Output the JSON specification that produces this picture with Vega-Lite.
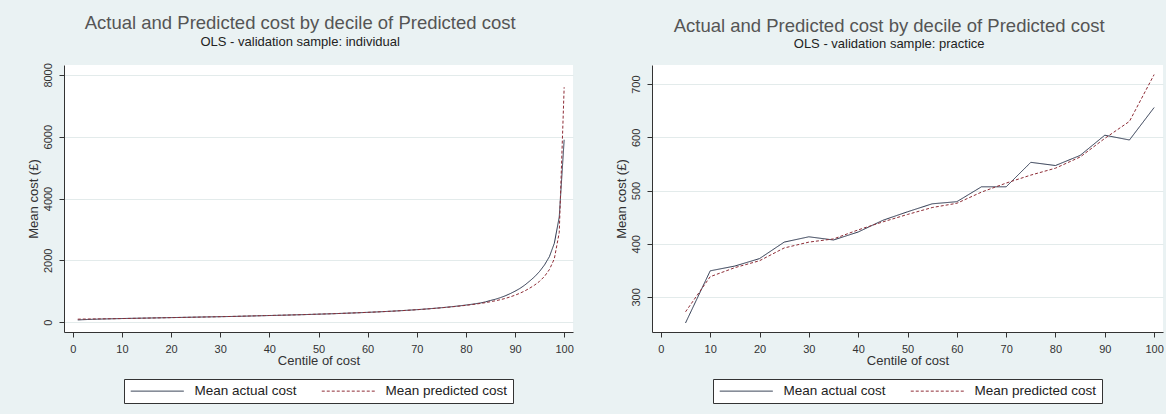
{
  "$schema": "https://vega.github.io/schema/vega-lite/v6.json",
  "background": "#eaf2f3",
  "padding": {"left": 27, "top": 14, "right": 2, "bottom": 10},
  "spacing": 40,
  "config": {
    "font": "Liberation Sans",
    "view": {"fill": "white", "stroke": null},
    "title": {
      "fontSize": 18.5,
      "fontWeight": "normal",
      "color": "#555555",
      "subtitleFontSize": 13,
      "subtitleColor": "#222222",
      "subtitlePadding": 3,
      "anchor": "middle",
      "frame": "bounds",
      "offset": 14
    },
    "axis": {
      "domainColor": "#333333",
      "tickColor": "#333333",
      "tickSize": 5,
      "labelColor": "#333333",
      "labelFontSize": 11,
      "titleFontSize": 13,
      "titleFontWeight": "normal",
      "titleColor": "#333333",
      "gridColor": "#e3ebeb"
    },
    "axisX": {"grid": false, "labelPadding": 6, "titlePadding": 0},
    "axisY": {"labelAngle": -90, "labelAlign": "center", "labelBaseline": "bottom", "labelPadding": 6, "titlePadding": 2},
    "legend": {
      "orient": "bottom",
      "direction": "horizontal",
      "title": null,
      "strokeColor": "#333333",
      "fillColor": "white",
      "padding": 5,
      "offset": 12,
      "symbolType": "M-1,0H9.6",
      "symbolSize": 100,
      "symbolStrokeWidth": 1,
      "labelOffset": 52,
      "columnPadding": 22,
      "labelFontSize": 13.5,
      "labelColor": "#222222",
      "layout": {"bottom": {"anchor": "middle"}}
    }
  },
  "datasets": {
    "individual": [
      {"centile": 1, "series": "Mean actual cost", "cost": 70}, {"centile": 1, "series": "Mean predicted cost", "cost": 95},
      {"centile": 2, "series": "Mean actual cost", "cost": 78}, {"centile": 2, "series": "Mean predicted cost", "cost": 98},
      {"centile": 3, "series": "Mean actual cost", "cost": 84}, {"centile": 3, "series": "Mean predicted cost", "cost": 100},
      {"centile": 4, "series": "Mean actual cost", "cost": 90}, {"centile": 4, "series": "Mean predicted cost", "cost": 102},
      {"centile": 5, "series": "Mean actual cost", "cost": 95}, {"centile": 5, "series": "Mean predicted cost", "cost": 104},
      {"centile": 6, "series": "Mean actual cost", "cost": 100}, {"centile": 6, "series": "Mean predicted cost", "cost": 106},
      {"centile": 7, "series": "Mean actual cost", "cost": 104}, {"centile": 7, "series": "Mean predicted cost", "cost": 108},
      {"centile": 8, "series": "Mean actual cost", "cost": 108}, {"centile": 8, "series": "Mean predicted cost", "cost": 110},
      {"centile": 9, "series": "Mean actual cost", "cost": 112}, {"centile": 9, "series": "Mean predicted cost", "cost": 112},
      {"centile": 10, "series": "Mean actual cost", "cost": 116}, {"centile": 10, "series": "Mean predicted cost", "cost": 115},
      {"centile": 11, "series": "Mean actual cost", "cost": 119}, {"centile": 11, "series": "Mean predicted cost", "cost": 118},
      {"centile": 12, "series": "Mean actual cost", "cost": 122}, {"centile": 12, "series": "Mean predicted cost", "cost": 121},
      {"centile": 13, "series": "Mean actual cost", "cost": 125}, {"centile": 13, "series": "Mean predicted cost", "cost": 124},
      {"centile": 14, "series": "Mean actual cost", "cost": 128}, {"centile": 14, "series": "Mean predicted cost", "cost": 127},
      {"centile": 15, "series": "Mean actual cost", "cost": 131}, {"centile": 15, "series": "Mean predicted cost", "cost": 130},
      {"centile": 16, "series": "Mean actual cost", "cost": 134}, {"centile": 16, "series": "Mean predicted cost", "cost": 133},
      {"centile": 17, "series": "Mean actual cost", "cost": 137}, {"centile": 17, "series": "Mean predicted cost", "cost": 136},
      {"centile": 18, "series": "Mean actual cost", "cost": 140}, {"centile": 18, "series": "Mean predicted cost", "cost": 139},
      {"centile": 19, "series": "Mean actual cost", "cost": 143}, {"centile": 19, "series": "Mean predicted cost", "cost": 142},
      {"centile": 20, "series": "Mean actual cost", "cost": 146}, {"centile": 20, "series": "Mean predicted cost", "cost": 145},
      {"centile": 21, "series": "Mean actual cost", "cost": 149}, {"centile": 21, "series": "Mean predicted cost", "cost": 148},
      {"centile": 22, "series": "Mean actual cost", "cost": 152}, {"centile": 22, "series": "Mean predicted cost", "cost": 151},
      {"centile": 23, "series": "Mean actual cost", "cost": 155}, {"centile": 23, "series": "Mean predicted cost", "cost": 154},
      {"centile": 24, "series": "Mean actual cost", "cost": 158}, {"centile": 24, "series": "Mean predicted cost", "cost": 157},
      {"centile": 25, "series": "Mean actual cost", "cost": 161}, {"centile": 25, "series": "Mean predicted cost", "cost": 160},
      {"centile": 26, "series": "Mean actual cost", "cost": 164}, {"centile": 26, "series": "Mean predicted cost", "cost": 163},
      {"centile": 27, "series": "Mean actual cost", "cost": 167}, {"centile": 27, "series": "Mean predicted cost", "cost": 166},
      {"centile": 28, "series": "Mean actual cost", "cost": 170}, {"centile": 28, "series": "Mean predicted cost", "cost": 169},
      {"centile": 29, "series": "Mean actual cost", "cost": 173}, {"centile": 29, "series": "Mean predicted cost", "cost": 172},
      {"centile": 30, "series": "Mean actual cost", "cost": 176}, {"centile": 30, "series": "Mean predicted cost", "cost": 175},
      {"centile": 31, "series": "Mean actual cost", "cost": 179}, {"centile": 31, "series": "Mean predicted cost", "cost": 179},
      {"centile": 32, "series": "Mean actual cost", "cost": 182}, {"centile": 32, "series": "Mean predicted cost", "cost": 182},
      {"centile": 33, "series": "Mean actual cost", "cost": 185}, {"centile": 33, "series": "Mean predicted cost", "cost": 186},
      {"centile": 34, "series": "Mean actual cost", "cost": 189}, {"centile": 34, "series": "Mean predicted cost", "cost": 190},
      {"centile": 35, "series": "Mean actual cost", "cost": 193}, {"centile": 35, "series": "Mean predicted cost", "cost": 194},
      {"centile": 36, "series": "Mean actual cost", "cost": 197}, {"centile": 36, "series": "Mean predicted cost", "cost": 198},
      {"centile": 37, "series": "Mean actual cost", "cost": 201}, {"centile": 37, "series": "Mean predicted cost", "cost": 202},
      {"centile": 38, "series": "Mean actual cost", "cost": 205}, {"centile": 38, "series": "Mean predicted cost", "cost": 206},
      {"centile": 39, "series": "Mean actual cost", "cost": 209}, {"centile": 39, "series": "Mean predicted cost", "cost": 210},
      {"centile": 40, "series": "Mean actual cost", "cost": 213}, {"centile": 40, "series": "Mean predicted cost", "cost": 214},
      {"centile": 41, "series": "Mean actual cost", "cost": 217}, {"centile": 41, "series": "Mean predicted cost", "cost": 218},
      {"centile": 42, "series": "Mean actual cost", "cost": 221}, {"centile": 42, "series": "Mean predicted cost", "cost": 222},
      {"centile": 43, "series": "Mean actual cost", "cost": 225}, {"centile": 43, "series": "Mean predicted cost", "cost": 226},
      {"centile": 44, "series": "Mean actual cost", "cost": 229}, {"centile": 44, "series": "Mean predicted cost", "cost": 230},
      {"centile": 45, "series": "Mean actual cost", "cost": 234}, {"centile": 45, "series": "Mean predicted cost", "cost": 234},
      {"centile": 46, "series": "Mean actual cost", "cost": 238}, {"centile": 46, "series": "Mean predicted cost", "cost": 238},
      {"centile": 47, "series": "Mean actual cost", "cost": 242}, {"centile": 47, "series": "Mean predicted cost", "cost": 243},
      {"centile": 48, "series": "Mean actual cost", "cost": 247}, {"centile": 48, "series": "Mean predicted cost", "cost": 248},
      {"centile": 49, "series": "Mean actual cost", "cost": 252}, {"centile": 49, "series": "Mean predicted cost", "cost": 253},
      {"centile": 50, "series": "Mean actual cost", "cost": 257}, {"centile": 50, "series": "Mean predicted cost", "cost": 258},
      {"centile": 51, "series": "Mean actual cost", "cost": 262}, {"centile": 51, "series": "Mean predicted cost", "cost": 263},
      {"centile": 52, "series": "Mean actual cost", "cost": 267}, {"centile": 52, "series": "Mean predicted cost", "cost": 268},
      {"centile": 53, "series": "Mean actual cost", "cost": 272}, {"centile": 53, "series": "Mean predicted cost", "cost": 273},
      {"centile": 54, "series": "Mean actual cost", "cost": 278}, {"centile": 54, "series": "Mean predicted cost", "cost": 278},
      {"centile": 55, "series": "Mean actual cost", "cost": 284}, {"centile": 55, "series": "Mean predicted cost", "cost": 284},
      {"centile": 56, "series": "Mean actual cost", "cost": 290}, {"centile": 56, "series": "Mean predicted cost", "cost": 290},
      {"centile": 57, "series": "Mean actual cost", "cost": 296}, {"centile": 57, "series": "Mean predicted cost", "cost": 296},
      {"centile": 58, "series": "Mean actual cost", "cost": 302}, {"centile": 58, "series": "Mean predicted cost", "cost": 302},
      {"centile": 59, "series": "Mean actual cost", "cost": 309}, {"centile": 59, "series": "Mean predicted cost", "cost": 309},
      {"centile": 60, "series": "Mean actual cost", "cost": 316}, {"centile": 60, "series": "Mean predicted cost", "cost": 316},
      {"centile": 61, "series": "Mean actual cost", "cost": 323}, {"centile": 61, "series": "Mean predicted cost", "cost": 323},
      {"centile": 62, "series": "Mean actual cost", "cost": 330}, {"centile": 62, "series": "Mean predicted cost", "cost": 330},
      {"centile": 63, "series": "Mean actual cost", "cost": 338}, {"centile": 63, "series": "Mean predicted cost", "cost": 338},
      {"centile": 64, "series": "Mean actual cost", "cost": 346}, {"centile": 64, "series": "Mean predicted cost", "cost": 346},
      {"centile": 65, "series": "Mean actual cost", "cost": 354}, {"centile": 65, "series": "Mean predicted cost", "cost": 354},
      {"centile": 66, "series": "Mean actual cost", "cost": 363}, {"centile": 66, "series": "Mean predicted cost", "cost": 363},
      {"centile": 67, "series": "Mean actual cost", "cost": 372}, {"centile": 67, "series": "Mean predicted cost", "cost": 372},
      {"centile": 68, "series": "Mean actual cost", "cost": 382}, {"centile": 68, "series": "Mean predicted cost", "cost": 381},
      {"centile": 69, "series": "Mean actual cost", "cost": 392}, {"centile": 69, "series": "Mean predicted cost", "cost": 391},
      {"centile": 70, "series": "Mean actual cost", "cost": 403}, {"centile": 70, "series": "Mean predicted cost", "cost": 401},
      {"centile": 71, "series": "Mean actual cost", "cost": 414}, {"centile": 71, "series": "Mean predicted cost", "cost": 412},
      {"centile": 72, "series": "Mean actual cost", "cost": 426}, {"centile": 72, "series": "Mean predicted cost", "cost": 424},
      {"centile": 73, "series": "Mean actual cost", "cost": 439}, {"centile": 73, "series": "Mean predicted cost", "cost": 436},
      {"centile": 74, "series": "Mean actual cost", "cost": 452}, {"centile": 74, "series": "Mean predicted cost", "cost": 449},
      {"centile": 75, "series": "Mean actual cost", "cost": 466}, {"centile": 75, "series": "Mean predicted cost", "cost": 463},
      {"centile": 76, "series": "Mean actual cost", "cost": 481}, {"centile": 76, "series": "Mean predicted cost", "cost": 477},
      {"centile": 77, "series": "Mean actual cost", "cost": 497}, {"centile": 77, "series": "Mean predicted cost", "cost": 492},
      {"centile": 78, "series": "Mean actual cost", "cost": 514}, {"centile": 78, "series": "Mean predicted cost", "cost": 508},
      {"centile": 79, "series": "Mean actual cost", "cost": 532}, {"centile": 79, "series": "Mean predicted cost", "cost": 525},
      {"centile": 80, "series": "Mean actual cost", "cost": 552}, {"centile": 80, "series": "Mean predicted cost", "cost": 543},
      {"centile": 81, "series": "Mean actual cost", "cost": 573}, {"centile": 81, "series": "Mean predicted cost", "cost": 562},
      {"centile": 82, "series": "Mean actual cost", "cost": 596}, {"centile": 82, "series": "Mean predicted cost", "cost": 583},
      {"centile": 83, "series": "Mean actual cost", "cost": 621}, {"centile": 83, "series": "Mean predicted cost", "cost": 605},
      {"centile": 84, "series": "Mean actual cost", "cost": 655}, {"centile": 84, "series": "Mean predicted cost", "cost": 630},
      {"centile": 85, "series": "Mean actual cost", "cost": 700}, {"centile": 85, "series": "Mean predicted cost", "cost": 660},
      {"centile": 86, "series": "Mean actual cost", "cost": 740}, {"centile": 86, "series": "Mean predicted cost", "cost": 690},
      {"centile": 87, "series": "Mean actual cost", "cost": 790}, {"centile": 87, "series": "Mean predicted cost", "cost": 725},
      {"centile": 88, "series": "Mean actual cost", "cost": 850}, {"centile": 88, "series": "Mean predicted cost", "cost": 765},
      {"centile": 89, "series": "Mean actual cost", "cost": 920}, {"centile": 89, "series": "Mean predicted cost", "cost": 815},
      {"centile": 90, "series": "Mean actual cost", "cost": 1000}, {"centile": 90, "series": "Mean predicted cost", "cost": 870},
      {"centile": 91, "series": "Mean actual cost", "cost": 1090}, {"centile": 91, "series": "Mean predicted cost", "cost": 935},
      {"centile": 92, "series": "Mean actual cost", "cost": 1200}, {"centile": 92, "series": "Mean predicted cost", "cost": 1010},
      {"centile": 93, "series": "Mean actual cost", "cost": 1330}, {"centile": 93, "series": "Mean predicted cost", "cost": 1100},
      {"centile": 94, "series": "Mean actual cost", "cost": 1470}, {"centile": 94, "series": "Mean predicted cost", "cost": 1200},
      {"centile": 95, "series": "Mean actual cost", "cost": 1640}, {"centile": 95, "series": "Mean predicted cost", "cost": 1320},
      {"centile": 96, "series": "Mean actual cost", "cost": 1850}, {"centile": 96, "series": "Mean predicted cost", "cost": 1480},
      {"centile": 97, "series": "Mean actual cost", "cost": 2120}, {"centile": 97, "series": "Mean predicted cost", "cost": 1700},
      {"centile": 98, "series": "Mean actual cost", "cost": 2550}, {"centile": 98, "series": "Mean predicted cost", "cost": 2050},
      {"centile": 99, "series": "Mean actual cost", "cost": 3400}, {"centile": 99, "series": "Mean predicted cost", "cost": 2900},
      {"centile": 100, "series": "Mean actual cost", "cost": 5900}, {"centile": 100, "series": "Mean predicted cost", "cost": 7600}
    ],
    "practice": [
      {"centile": 5, "series": "Mean actual cost", "cost": 251}, {"centile": 5, "series": "Mean predicted cost", "cost": 272},
      {"centile": 10, "series": "Mean actual cost", "cost": 349}, {"centile": 10, "series": "Mean predicted cost", "cost": 338},
      {"centile": 15, "series": "Mean actual cost", "cost": 358}, {"centile": 15, "series": "Mean predicted cost", "cost": 355},
      {"centile": 20, "series": "Mean actual cost", "cost": 372}, {"centile": 20, "series": "Mean predicted cost", "cost": 368},
      {"centile": 25, "series": "Mean actual cost", "cost": 403}, {"centile": 25, "series": "Mean predicted cost", "cost": 392},
      {"centile": 30, "series": "Mean actual cost", "cost": 413}, {"centile": 30, "series": "Mean predicted cost", "cost": 403},
      {"centile": 35, "series": "Mean actual cost", "cost": 407}, {"centile": 35, "series": "Mean predicted cost", "cost": 409},
      {"centile": 40, "series": "Mean actual cost", "cost": 422}, {"centile": 40, "series": "Mean predicted cost", "cost": 426},
      {"centile": 45, "series": "Mean actual cost", "cost": 444}, {"centile": 45, "series": "Mean predicted cost", "cost": 441},
      {"centile": 50, "series": "Mean actual cost", "cost": 460}, {"centile": 50, "series": "Mean predicted cost", "cost": 455},
      {"centile": 55, "series": "Mean actual cost", "cost": 475}, {"centile": 55, "series": "Mean predicted cost", "cost": 468},
      {"centile": 60, "series": "Mean actual cost", "cost": 479}, {"centile": 60, "series": "Mean predicted cost", "cost": 476},
      {"centile": 65, "series": "Mean actual cost", "cost": 507}, {"centile": 65, "series": "Mean predicted cost", "cost": 497},
      {"centile": 70, "series": "Mean actual cost", "cost": 507}, {"centile": 70, "series": "Mean predicted cost", "cost": 514},
      {"centile": 75, "series": "Mean actual cost", "cost": 553}, {"centile": 75, "series": "Mean predicted cost", "cost": 529},
      {"centile": 80, "series": "Mean actual cost", "cost": 547}, {"centile": 80, "series": "Mean predicted cost", "cost": 542},
      {"centile": 85, "series": "Mean actual cost", "cost": 566}, {"centile": 85, "series": "Mean predicted cost", "cost": 563},
      {"centile": 90, "series": "Mean actual cost", "cost": 604}, {"centile": 90, "series": "Mean predicted cost", "cost": 598},
      {"centile": 95, "series": "Mean actual cost", "cost": 595}, {"centile": 95, "series": "Mean predicted cost", "cost": 630},
      {"centile": 100, "series": "Mean actual cost", "cost": 656}, {"centile": 100, "series": "Mean predicted cost", "cost": 718}
    ]
  },
  "hconcat": [
    {
      "title": {"text": "Actual and Predicted cost by decile of Predicted cost", "subtitle": "OLS - validation sample: individual"},
      "width": 509,
      "height": 267,
      "data": {"name": "individual"},
      "mark": {"type": "line", "strokeWidth": 1},
      "encoding": {
        "x": {"field": "centile", "type": "quantitative", "scale": {"domain": [-1.8, 101.8], "nice": false, "zero": false}, "axis": {"values": [0, 10, 20, 30, 40, 50, 60, 70, 80, 90, 100], "title": "Centile of cost"}},
        "y": {"field": "cost", "type": "quantitative", "scale": {"domain": [-320, 8320], "nice": false, "zero": false}, "axis": {"values": [0, 2000, 4000, 6000, 8000], "format": "d", "title": "Mean cost (£)"}},
        "color": {"field": "series", "type": "nominal", "scale": {"domain": ["Mean actual cost", "Mean predicted cost"], "range": ["#27324a", "#8e2c36"]}},
        "strokeDash": {"field": "series", "type": "nominal", "scale": {"domain": ["Mean actual cost", "Mean predicted cost"], "range": [[1, 0], [3, 2]]}}
      }
    },
    {
      "title": {"text": "Actual and Predicted cost by decile of Predicted cost", "subtitle": "OLS - validation sample: practice"},
      "width": 511,
      "height": 267,
      "data": {"name": "practice"},
      "mark": {"type": "line", "strokeWidth": 1},
      "encoding": {
        "x": {"field": "centile", "type": "quantitative", "scale": {"domain": [-1.8, 101.8], "nice": false, "zero": false}, "axis": {"values": [0, 10, 20, 30, 40, 50, 60, 70, 80, 90, 100], "title": "Centile of cost"}},
        "y": {"field": "cost", "type": "quantitative", "scale": {"domain": [234, 736], "nice": false, "zero": false}, "axis": {"values": [300, 400, 500, 600, 700], "title": "Mean cost (£)"}},
        "color": {"field": "series", "type": "nominal", "scale": {"domain": ["Mean actual cost", "Mean predicted cost"], "range": ["#27324a", "#8e2c36"]}},
        "strokeDash": {"field": "series", "type": "nominal", "scale": {"domain": ["Mean actual cost", "Mean predicted cost"], "range": [[1, 0], [3, 2]]}}
      }
    }
  ],
  "resolve": {"scale": {"y": "independent", "x": "independent"}, "legend": {"color": "independent", "strokeDash": "independent"}}
}
